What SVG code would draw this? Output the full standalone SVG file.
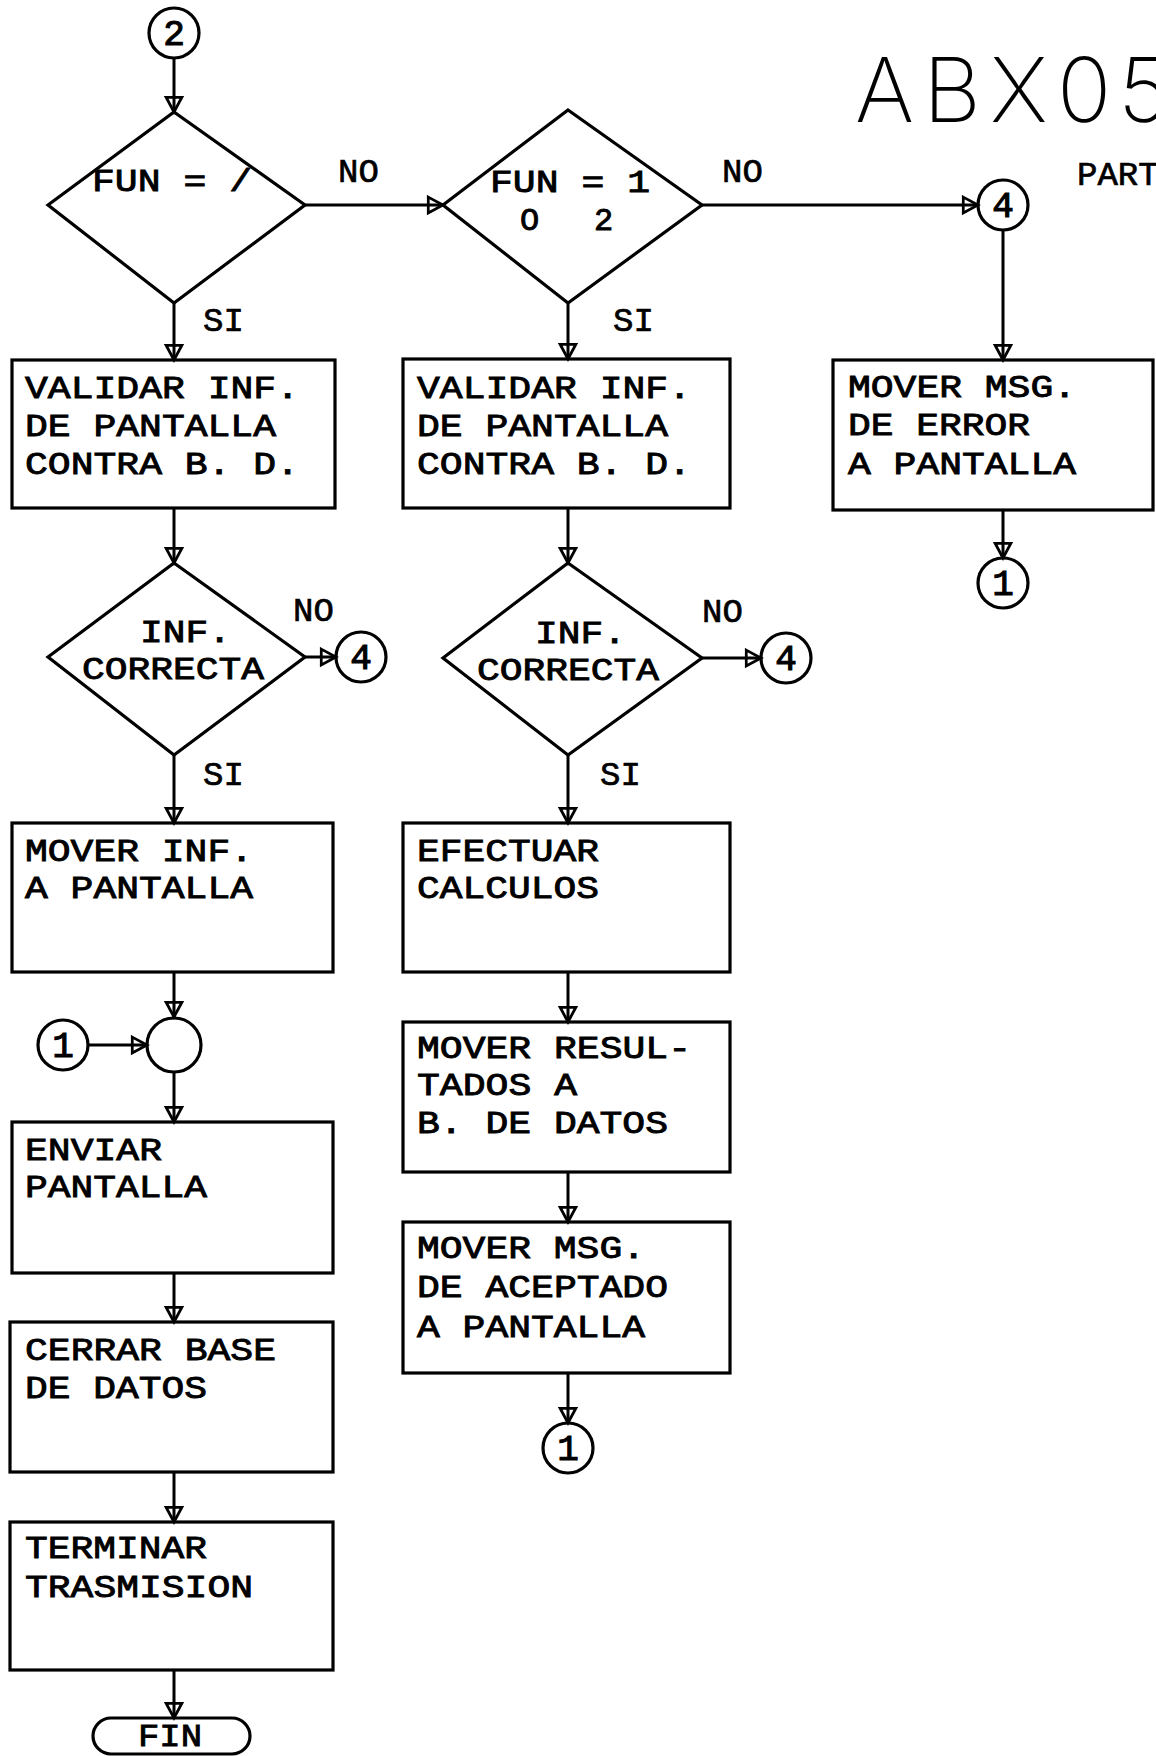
<svg xmlns="http://www.w3.org/2000/svg" width="1156" height="1756" viewBox="0 0 1156 1756">
<style>
  .box{fill:none;stroke:#000;stroke-width:3.2}
  .dia{fill:none;stroke:#000;stroke-width:3.2;stroke-linejoin:miter}
  .circ{fill:none;stroke:#000;stroke-width:3.2}
  .t{font-family:"Liberation Mono","DejaVu Sans Mono",monospace;font-size:32px;fill:#000;stroke:#000;stroke-width:0.9}
  .lab{font-family:"Liberation Mono","DejaVu Sans Mono",monospace;font-size:34px;fill:#000;stroke:#000;stroke-width:0.7}
  .num{font-family:"Liberation Mono","DejaVu Sans Mono",monospace;font-size:36px;fill:#000;stroke:#000;stroke-width:1.1;text-anchor:middle}
  .title{font-family:Inter,"Noto Sans","DejaVu Sans",sans-serif;font-weight:200;font-size:90px;fill:#000}
  .con{fill:none;stroke:#000;stroke-width:3;marker-end:url(#ah)}
</style>
<defs>
  <marker id="ah" markerUnits="userSpaceOnUse" markerWidth="20" markerHeight="20" viewBox="-2 -2 18 19" refX="14" refY="7.5" orient="auto" overflow="visible">
    <path d="M0,0 L14,7.5 L0,15 Z" fill="none" stroke="#000" stroke-width="2.6" stroke-linejoin="miter"/>
  </marker>
</defs>
<rect width="1156" height="1756" fill="#fff"/>

<g id="title">
  <text class="title" x="855 923 990 1057 1118" y="122">ABX05</text>
  <text class="lab" x="1077" y="185">PART</text>
</g>

<g id="connectors">
  <path class="con" d="M174,58 L174,112"/>
  <path class="con" d="M305,205 L443,205"/>
  <path class="con" d="M702,205 L978,205"/>
  <path class="con" d="M174,303 L174,360"/>
  <path class="con" d="M568,303 L568,359"/>
  <path class="con" d="M1003,230 L1003,360"/>
  <path class="con" d="M1003,510 L1003,558"/>
  <path class="con" d="M174,508 L174,563"/>
  <path class="con" d="M568,508 L568,563"/>
  <path class="con" d="M305,657 L336,657"/>
  <path class="con" d="M702,658 L761,658"/>
  <path class="con" d="M174,755 L174,823"/>
  <path class="con" d="M568,755 L568,823"/>
  <path class="con" d="M174,972 L174,1017"/>
  <path class="con" d="M88,1045 L147,1045"/>
  <path class="con" d="M174,1072 L174,1122"/>
  <path class="con" d="M568,972 L568,1022"/>
  <path class="con" d="M568,1172 L568,1222"/>
  <path class="con" d="M568,1373 L568,1423"/>
  <path class="con" d="M174,1273 L174,1322"/>
  <path class="con" d="M174,1472 L174,1522"/>
  <path class="con" d="M174,1670 L174,1718"/>
</g>

<g id="labels">
  <text class="lab" x="338" y="182">NO</text>
  <text class="lab" x="722" y="182">NO</text>
  <text class="lab" x="293" y="621">NO</text>
  <text class="lab" x="702" y="622">NO</text>
  <text class="lab" x="203" y="331" font-size="36">SI</text>
  <text class="lab" x="613" y="331" font-size="36">SI</text>
  <text class="lab" x="203" y="785" font-size="36">SI</text>
  <text class="lab" x="600" y="785" font-size="36">SI</text>
</g>

<g id="c2">
  <circle class="circ" cx="174" cy="33" r="25"/>
  <text class="num" x="174" y="45">2</text>
</g>

<g id="d1">
  <polygon class="dia" points="174,112 305,205 174,303 48,205"/>
  <text class="t" x="92" y="191" textLength="160" lengthAdjust="spacingAndGlyphs">FUN = /</text>
</g>

<g id="d2">
  <polygon class="dia" points="568,110 702,205 568,303 443,205"/>
  <text class="t" x="490" y="192" textLength="160" lengthAdjust="spacingAndGlyphs">FUN = 1</text>
  <text class="t" x="520 550 594" y="230">O 2</text>
</g>

<g id="c4a">
  <circle class="circ" cx="1003" cy="205" r="25"/>
  <text class="num" x="1003" y="217">4</text>
</g>

<g id="bL1">
  <rect class="box" x="12" y="360" width="323" height="148"/>
  <text class="t" x="25" y="398" textLength="274" lengthAdjust="spacingAndGlyphs">VALIDAR INF.</text>
  <text class="t" x="25" y="436" textLength="251" lengthAdjust="spacingAndGlyphs">DE PANTALLA</text>
  <text class="t" x="25" y="474" textLength="274" lengthAdjust="spacingAndGlyphs">CONTRA B. D.</text>
</g>

<g id="bM1">
  <rect class="box" x="403" y="359" width="327" height="149"/>
  <text class="t" x="417" y="398" textLength="274" lengthAdjust="spacingAndGlyphs">VALIDAR INF.</text>
  <text class="t" x="417" y="436" textLength="251" lengthAdjust="spacingAndGlyphs">DE PANTALLA</text>
  <text class="t" x="417" y="474" textLength="274" lengthAdjust="spacingAndGlyphs">CONTRA B. D.</text>
</g>

<g id="bR">
  <rect class="box" x="833" y="360" width="320" height="150"/>
  <text class="t" x="848" y="397" textLength="228" lengthAdjust="spacingAndGlyphs">MOVER MSG.</text>
  <text class="t" x="848" y="435" textLength="182" lengthAdjust="spacingAndGlyphs">DE ERROR</text>
  <text class="t" x="848" y="474" textLength="228" lengthAdjust="spacingAndGlyphs">A PANTALLA</text>
</g>

<g id="c1r">
  <circle class="circ" cx="1003" cy="583" r="25"/>
  <text class="num" x="1003" y="595">1</text>
</g>

<g id="d3">
  <polygon class="dia" points="174,563 305,657 174,755 48,657"/>
  <text class="t" x="140" y="642" textLength="91" lengthAdjust="spacingAndGlyphs">INF.</text>
  <text class="t" x="82" y="679" textLength="182" lengthAdjust="spacingAndGlyphs">CORRECTA</text>
</g>

<g id="c4b">
  <circle class="circ" cx="361" cy="657" r="25"/>
  <text class="num" x="361" y="669">4</text>
</g>

<g id="d4">
  <polygon class="dia" points="568,563 702,658 568,755 443,658"/>
  <text class="t" x="535" y="643" textLength="91" lengthAdjust="spacingAndGlyphs">INF.</text>
  <text class="t" x="477" y="680" textLength="182" lengthAdjust="spacingAndGlyphs">CORRECTA</text>
</g>

<g id="c4c">
  <circle class="circ" cx="786" cy="658" r="25"/>
  <text class="num" x="786" y="670">4</text>
</g>

<g id="bL2">
  <rect class="box" x="12" y="823" width="321" height="149"/>
  <text class="t" x="25" y="861" textLength="228" lengthAdjust="spacingAndGlyphs">MOVER INF.</text>
  <text class="t" x="25" y="898" textLength="228" lengthAdjust="spacingAndGlyphs">A PANTALLA</text>
</g>

<g id="bM2">
  <rect class="box" x="403" y="823" width="327" height="149"/>
  <text class="t" x="417" y="861" textLength="182" lengthAdjust="spacingAndGlyphs">EFECTUAR</text>
  <text class="t" x="417" y="898" textLength="182" lengthAdjust="spacingAndGlyphs">CALCULOS</text>
</g>

<g id="c1l">
  <circle class="circ" cx="63" cy="1045" r="25"/>
  <text class="num" x="63" y="1057">1</text>
</g>

<g id="junction">
  <circle class="circ" cx="174" cy="1045" r="27"/>
</g>

<g id="bL3">
  <rect class="box" x="12" y="1122" width="321" height="151"/>
  <text class="t" x="25" y="1160" textLength="137" lengthAdjust="spacingAndGlyphs">ENVIAR</text>
  <text class="t" x="25" y="1197" textLength="182" lengthAdjust="spacingAndGlyphs">PANTALLA</text>
</g>

<g id="bM3">
  <rect class="box" x="403" y="1022" width="327" height="150"/>
  <text class="t" x="417" y="1058" textLength="274" lengthAdjust="spacingAndGlyphs">MOVER RESUL-</text>
  <text class="t" x="417" y="1095" textLength="160" lengthAdjust="spacingAndGlyphs">TADOS A</text>
  <text class="t" x="417" y="1133" textLength="251" lengthAdjust="spacingAndGlyphs">B. DE DATOS</text>
</g>

<g id="bM4">
  <rect class="box" x="403" y="1222" width="327" height="151"/>
  <text class="t" x="417" y="1258" textLength="228" lengthAdjust="spacingAndGlyphs">MOVER MSG.</text>
  <text class="t" x="417" y="1297" textLength="251" lengthAdjust="spacingAndGlyphs">DE ACEPTADO</text>
  <text class="t" x="417" y="1337" textLength="228" lengthAdjust="spacingAndGlyphs">A PANTALLA</text>
</g>

<g id="c1m">
  <circle class="circ" cx="568" cy="1448" r="25"/>
  <text class="num" x="568" y="1460">1</text>
</g>

<g id="bL4">
  <rect class="box" x="10" y="1322" width="323" height="150"/>
  <text class="t" x="25" y="1360" textLength="251" lengthAdjust="spacingAndGlyphs">CERRAR BASE</text>
  <text class="t" x="25" y="1398" textLength="182" lengthAdjust="spacingAndGlyphs">DE DATOS</text>
</g>

<g id="bL5">
  <rect class="box" x="10" y="1522" width="323" height="148"/>
  <text class="t" x="25" y="1558" textLength="182" lengthAdjust="spacingAndGlyphs">TERMINAR</text>
  <text class="t" x="25" y="1597" textLength="228" lengthAdjust="spacingAndGlyphs">TRASMISION</text>
</g>

<g id="fin">
  <rect class="box" x="93" y="1718" width="157" height="36" rx="18" ry="18"/>
  <text class="t" x="138" y="1746" font-size="30" textLength="64" lengthAdjust="spacingAndGlyphs">FIN</text>
</g>
</svg>
